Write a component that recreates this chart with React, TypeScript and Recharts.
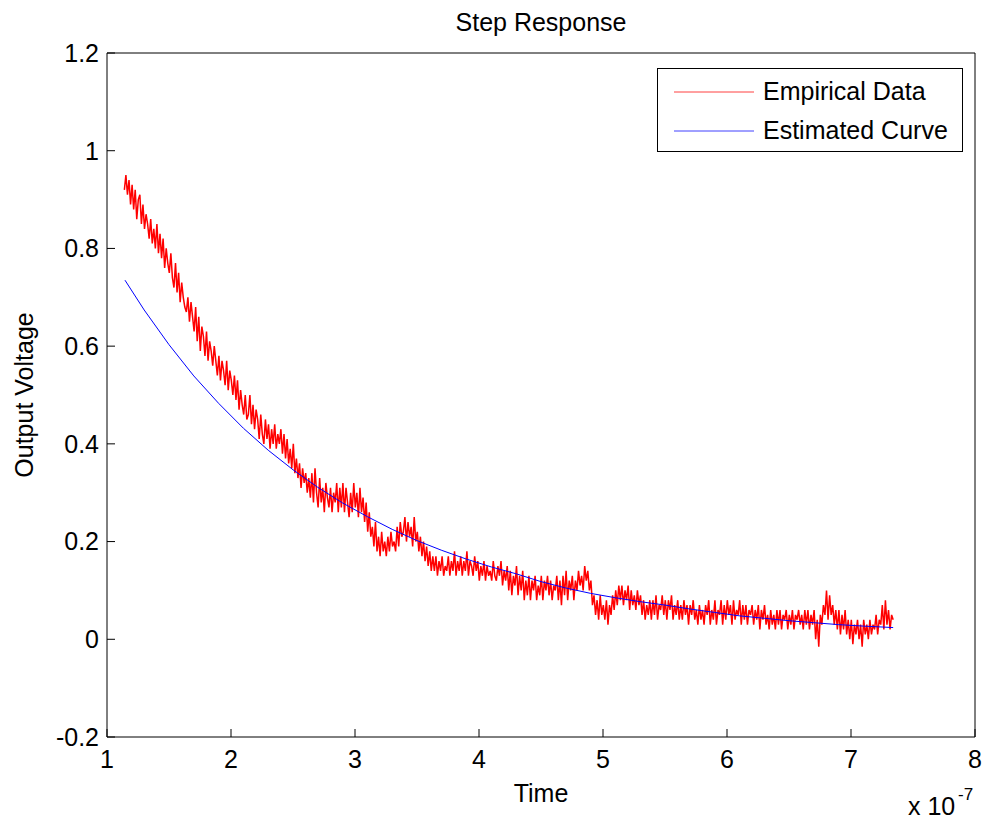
import { LineChart, Line, XAxis, YAxis, Legend } from 'recharts';

const FONT = 'Arial, "Liberation Sans", Helvetica, sans-serif';

const X_TICKS = [1, 2, 3, 4, 5, 6, 7, 8];
const Y_TICKS = [-0.2, 0, 0.2, 0.4, 0.6, 0.8, 1, 1.2];

const SERIES = [
  { name: 'Empirical Data', color: '#ff0000' },
  { name: 'Estimated Curve', color: '#0000ff' },
];

// empirical samples, uniform sampling from 1.14e-7 every 0.0125e-7
const SAMPLE_START = 1.14;
const SAMPLE_STEP = 0.0125;
const EMPIRICAL_V = [
  0.92, 0.95, 0.91, 0.94, 0.89, 0.93, 0.88, 0.92, 0.86, 0.90, 0.91, 0.85, 0.89, 0.84, 0.87, 0.85, 0.82, 0.86, 0.81, 0.84,
  0.80, 0.85, 0.79, 0.83, 0.78, 0.82, 0.76, 0.80, 0.77, 0.75, 0.79, 0.74, 0.72, 0.77, 0.71, 0.75, 0.69, 0.73, 0.70, 0.68,
  0.67, 0.70, 0.65, 0.69, 0.66, 0.63, 0.68, 0.61, 0.66, 0.59, 0.64, 0.62, 0.58, 0.63, 0.57, 0.61, 0.59, 0.56, 0.60, 0.57,
  0.54, 0.58, 0.53, 0.57, 0.55, 0.52, 0.57, 0.51, 0.55, 0.53, 0.50, 0.54, 0.49, 0.53, 0.47, 0.51, 0.48, 0.46, 0.50, 0.45,
  0.46, 0.50, 0.44, 0.48, 0.43, 0.47, 0.45, 0.41, 0.46, 0.42, 0.40, 0.45, 0.41, 0.44, 0.39, 0.43, 0.40, 0.44, 0.39, 0.42,
  0.40, 0.43, 0.38, 0.42, 0.37, 0.41, 0.36, 0.39, 0.35, 0.40, 0.34, 0.37, 0.33, 0.36, 0.31, 0.35, 0.32, 0.34, 0.30, 0.33,
  0.29, 0.34, 0.28, 0.35, 0.30, 0.27, 0.33, 0.28, 0.31, 0.26, 0.32, 0.29, 0.27, 0.31, 0.26, 0.30, 0.28, 0.32, 0.26, 0.31,
  0.27, 0.32, 0.26, 0.31, 0.28, 0.25, 0.30, 0.26, 0.32, 0.27, 0.30, 0.25, 0.31, 0.26, 0.29, 0.24, 0.28, 0.22, 0.26, 0.21,
  0.23, 0.19, 0.24, 0.18, 0.21, 0.17, 0.22, 0.18, 0.20, 0.17, 0.21, 0.18, 0.22, 0.19, 0.20, 0.18, 0.23, 0.19, 0.24, 0.21,
  0.22, 0.25, 0.20, 0.24, 0.21, 0.23, 0.19, 0.25, 0.20, 0.22, 0.18, 0.21, 0.17, 0.20, 0.16, 0.19, 0.15, 0.18, 0.14, 0.17,
  0.14, 0.17, 0.13, 0.16, 0.14, 0.17, 0.13, 0.15, 0.14, 0.17, 0.13, 0.16, 0.14, 0.18, 0.13, 0.16, 0.14, 0.17, 0.13, 0.16,
  0.14, 0.18, 0.13, 0.16, 0.15, 0.13, 0.17, 0.14, 0.16, 0.12, 0.15, 0.13, 0.16, 0.12, 0.15, 0.13, 0.14, 0.12, 0.16, 0.13,
  0.12, 0.15, 0.13, 0.16, 0.11, 0.14, 0.12, 0.15, 0.10, 0.14, 0.09, 0.13, 0.11, 0.15, 0.09, 0.13, 0.10, 0.14, 0.08, 0.12,
  0.09, 0.13, 0.08, 0.12, 0.10, 0.13, 0.08, 0.11, 0.09, 0.13, 0.08, 0.12, 0.10, 0.13, 0.09, 0.12, 0.08, 0.11, 0.10, 0.13,
  0.08, 0.12, 0.07, 0.13, 0.09, 0.14, 0.08, 0.12, 0.10, 0.13, 0.08, 0.12, 0.10, 0.14, 0.11, 0.13, 0.10, 0.15, 0.12, 0.14,
  0.10, 0.12, 0.07, 0.09, 0.05, 0.08, 0.04, 0.09, 0.05, 0.07, 0.04, 0.08, 0.03, 0.07, 0.05, 0.09, 0.06, 0.10, 0.07, 0.11,
  0.08, 0.11, 0.07, 0.10, 0.08, 0.11, 0.06, 0.10, 0.07, 0.09, 0.06, 0.10, 0.07, 0.09, 0.05, 0.08, 0.04, 0.07, 0.05, 0.08,
  0.04, 0.08, 0.05, 0.09, 0.04, 0.07, 0.06, 0.09, 0.05, 0.08, 0.04, 0.08, 0.06, 0.09, 0.04, 0.07, 0.05, 0.08, 0.04, 0.07,
  0.04, 0.08, 0.05, 0.07, 0.03, 0.07, 0.05, 0.08, 0.04, 0.06, 0.03, 0.07, 0.04, 0.06, 0.03, 0.07, 0.05, 0.08, 0.03, 0.06,
  0.04, 0.08, 0.03, 0.06, 0.05, 0.08, 0.03, 0.07, 0.04, 0.08, 0.05, 0.07, 0.03, 0.08, 0.04, 0.06, 0.05, 0.08, 0.03, 0.07,
  0.04, 0.07, 0.03, 0.06, 0.05, 0.07, 0.03, 0.06, 0.04, 0.07, 0.02, 0.06, 0.04, 0.07, 0.03, 0.05, 0.02, 0.06, 0.03, 0.05,
  0.02, 0.06, 0.03, 0.06, 0.02, 0.05, 0.04, 0.06, 0.02, 0.05, 0.03, 0.06, 0.02, 0.05, 0.04, 0.06, 0.03, 0.05, 0.02, 0.06,
  0.03, 0.06, 0.02, 0.05, 0.03, 0.06, 0.00, 0.04, -0.015, 0.05, 0.03, 0.07, 0.05, 0.10, 0.04, 0.09, 0.05, 0.07, 0.03, 0.06,
  0.02, 0.06, 0.01, 0.05, 0.02, 0.06, 0.01, 0.04, 0.00, 0.04, -0.01, 0.03, 0.01, 0.04, 0.00, 0.03, -0.015, 0.04, 0.01, 0.03,
  0.00, 0.04, 0.01, 0.03, 0.02, 0.05, 0.01, 0.04, 0.03, 0.07, 0.02, 0.08, 0.03, 0.06, 0.02, 0.05, 0.04,
];

const ESTIMATED_T = [
  1.145, 1.3, 1.5, 1.7, 1.9, 2.1, 2.3, 2.5, 2.7, 2.9, 3.1, 3.3, 3.5, 3.7, 3.9, 4.1,
  4.3, 4.5, 4.7, 4.9, 5.1, 5.3, 5.5, 5.7, 5.9, 6.1, 6.3, 6.5, 6.7, 6.9, 7.1, 7.34,
];
const ESTIMATED_V = [
  0.735, 0.674, 0.603, 0.539, 0.483, 0.432, 0.387, 0.347, 0.311, 0.279, 0.251, 0.225,
  0.202, 0.182, 0.164, 0.148, 0.134, 0.118, 0.105, 0.094, 0.085, 0.077, 0.070, 0.062,
  0.055, 0.048, 0.043, 0.038, 0.034, 0.030, 0.027, 0.024,
];

const empiricalData = EMPIRICAL_V.map((v, i) => ({ t: SAMPLE_START + i * SAMPLE_STEP, v }));
const estimatedData = ESTIMATED_T.map((t, i) => ({ t, v: ESTIMATED_V[i] }));

const TICK_LEN = 8;
const BOTTOM_GAP = 13;
const LEFT_GAP = 8;

function BottomTick({ x, y, payload }: any) {
  const axisY = y - BOTTOM_GAP;
  return (
    <g>
      <line x1={x} x2={x} y1={axisY} y2={axisY - TICK_LEN} stroke="#000" />
      <text x={x} y={y} dy="0.71em" textAnchor="middle" fontSize={25} fontFamily={FONT} fill="#000">
        {payload.value}
      </text>
    </g>
  );
}

function LeftTick({ x, y, payload }: any) {
  const axisX = x + LEFT_GAP;
  return (
    <g>
      <line x1={axisX} x2={axisX + TICK_LEN} y1={y} y2={y} stroke="#000" />
      <text x={x} y={y} dy="0.355em" textAnchor="end" fontSize={25} fontFamily={FONT} fill="#000">
        {String(Number(payload.value.toFixed(1)))}
      </text>
    </g>
  );
}

function TopTick({ x, y }: any) {
  return <line x1={x} x2={x} y1={y} y2={y + TICK_LEN} stroke="#000" />;
}

function RightTick({ x, y }: any) {
  return <line x1={x} x2={x - TICK_LEN} y1={y} y2={y} stroke="#000" />;
}

function TitleLabel({ viewBox }: any) {
  const cx = viewBox.x + viewBox.width / 2;
  return (
    <text x={cx} y={31} textAnchor="middle" fontSize={25} fontFamily={FONT} fill="#000">
      Step Response
    </text>
  );
}

function TimeLabel({ viewBox }: any) {
  const cx = viewBox.x + viewBox.width / 2;
  return (
    <g fontFamily={FONT} fill="#000">
      <text x={cx} y={802} textAnchor="middle" fontSize={25}>Time</text>
      <text x={908} y={815} fontSize={25}>x 10</text>
      <text x={958} y={800} fontSize={17}>-7</text>
    </g>
  );
}

function VoltLabel() {
  return (
    <text x={24} y={395} transform="rotate(-90 24 395)" textAnchor="middle" dominantBaseline="central"
      fontSize={25} fontFamily={FONT} fill="#000">
      Output Voltage
    </text>
  );
}

function LegendBox() {
  return (
    <div style={styles.legend}>
      {SERIES.map((s) => (
        <div key={s.name} style={styles.legendRow}>
          <svg width={80} height={4} style={{ display: 'block' }}>
            <line x1={0} x2={80} y1={2} y2={2} stroke={s.color} strokeWidth={1} strokeOpacity={0.75} />
          </svg>
          <span style={{ marginLeft: 9 }}>{s.name}</span>
        </div>
      ))}
    </div>
  );
}

export default function App() {
  return (
    <div style={{ position: 'absolute', left: 0, top: 0, background: '#fff' }}>
      <LineChart width={985} height={821} margin={{ top: 0, right: 0, left: 0, bottom: 0 }}>
        <XAxis xAxisId={0} dataKey="t" type="number" domain={[1, 8]} ticks={X_TICKS} allowDataOverflow
          height={84} stroke="#000" tickLine={false} tickSize={0} tickMargin={BOTTOM_GAP}
          tick={<BottomTick />} label={<TimeLabel />} />
        <XAxis xAxisId="top" orientation="top" dataKey="t" type="number" domain={[1, 8]} ticks={X_TICKS}
          height={53} stroke="#000" tickLine={false} tickSize={0} tickMargin={0}
          tick={<TopTick />} label={<TitleLabel />} />
        <YAxis yAxisId={0} type="number" domain={[-0.2, 1.2]} ticks={Y_TICKS} allowDataOverflow
          width={107} stroke="#000" tickLine={false} tickSize={0} tickMargin={LEFT_GAP}
          tick={<LeftTick />} label={<VoltLabel />} />
        <YAxis yAxisId="right" orientation="right" type="number" domain={[-0.2, 1.2]} ticks={Y_TICKS}
          width={10} stroke="#000" tickLine={false} tickSize={0} tickMargin={0} tick={<RightTick />} />
        <Legend layout="vertical" align="center" verticalAlign="middle" content={<LegendBox />}
          wrapperStyle={{ left: 657, top: 68, width: 306, height: 84 }} />
        <Line data={empiricalData} dataKey="v" name={SERIES[0].name} stroke={SERIES[0].color} strokeWidth={1.5}
          dot={false} isAnimationActive={false} />
        <Line data={estimatedData} dataKey="v" name={SERIES[1].name} stroke={SERIES[1].color} strokeWidth={1}
          dot={false} isAnimationActive={false} />
      </LineChart>
    </div>
  );
}

const styles: Record<string, React.CSSProperties> = {
  legend: {
    boxSizing: 'border-box', width: 306, height: 84, border: '1px solid #000', background: '#fff',
    fontFamily: FONT, fontSize: 25, color: '#000', padding: '3px 0 0 16px',
  },
  legendRow: { display: 'flex', alignItems: 'center', height: 39, lineHeight: '39px' },
};
